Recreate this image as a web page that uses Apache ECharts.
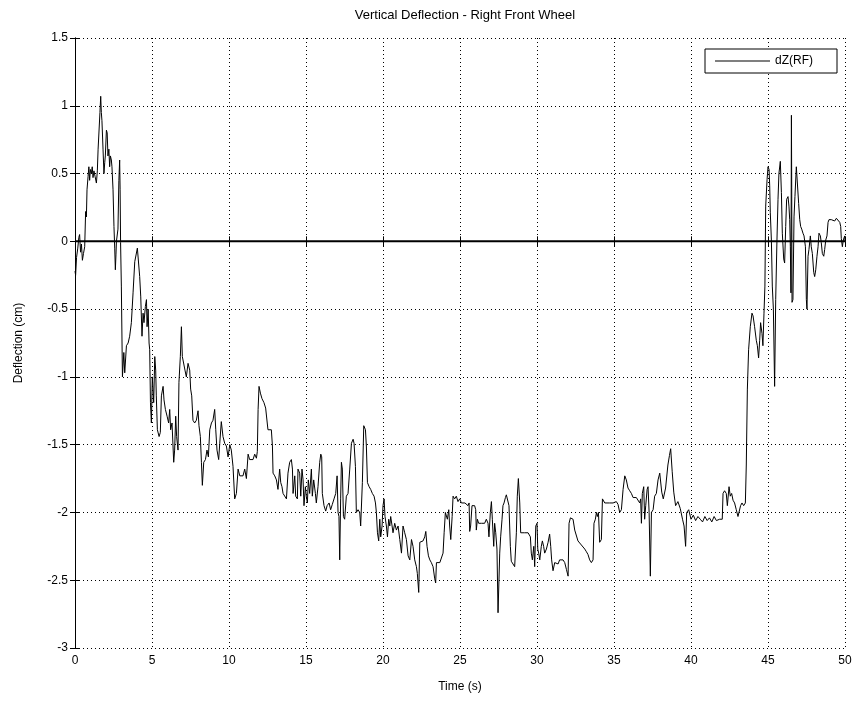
<!DOCTYPE html>
<html>
<head>
<meta charset="utf-8">
<script src="https://cdn.jsdelivr.net/npm/echarts@6/dist/echarts.min.js"></script>
<style>html,body{margin:0;padding:0;background:#fff;}#chart{width:858px;height:701px;}</style>
</head>
<body>
<div id="chart"></div>
<script>
// ---- data ----
const chartTitle = 'Vertical Deflection - Right Front Wheel';
const seriesName = 'dZ(RF)';
const xTicks = [0, 5, 10, 15, 20, 25, 30, 35, 40, 45, 50];
const yTicks = [-3, -2.5, -2, -1.5, -1, -0.5, 0, 0.5, 1, 1.5];

const timeS = [
0,0.04,0.1,0.18,0.25,0.3,0.36,0.42,0.48,0.55,0.63,0.69,0.74,0.78,0.85,0.9,0.95,1.0,1.06,1.12,1.17,1.23,1.3,1.39,1.45,1.5,1.56,1.62,1.67,1.71,1.75,1.82,1.88,1.93,1.97,2.04,2.09,2.14,2.2,2.25,2.3,2.36,2.4,2.47,2.53,2.58,2.62,2.66,2.69,2.79,2.85,2.9,2.93,2.96,3.01,
3.08,3.17,3.23,3.34,3.45,3.55,3.66,3.77,3.88,3.99,4.05,4.14,4.2,4.27,4.35,4.42,4.48,4.57,4.64,4.68,4.75,4.81,4.85,4.9,4.96,5.02,5.11,5.18,5.24,5.28,5.35,5.46,5.54,5.61,5.72,5.78,5.87,5.98,6.08,6.15,6.21,6.3,6.41,6.47,6.54,6.6,6.69,6.75,6.84,6.91,6.97,7.06,7.14,7.23,7.34,7.45,7.51,7.58,7.66,7.77,7.88,7.99,8.05,8.14,8.21,8.27,8.36,8.47,8.57,8.66,8.75,8.86,8.96,9.07,9.14,9.22,9.33,9.4,9.5,9.61,9.72,9.83,9.94,
10.05,10.15,10.26,10.37,10.48,10.59,10.7,10.8,10.91,11.02,11.13,11.24,11.34,11.45,11.56,11.67,11.78,11.84,11.89,11.95,12.04,12.14,12.27,12.38,12.47,12.53,12.64,12.75,12.82,12.86,12.97,13.08,13.18,13.29,13.36,13.44,13.51,13.62,13.73,13.83,13.94,14.05,14.12,14.16,14.27,14.33,14.44,14.48,14.59,14.66,14.74,14.81,14.87,14.96,15.02,15.09,15.15,15.24,15.35,15.41,15.5,15.61,15.67,15.78,15.89,15.96,16.02,16.06,16.17,16.28,16.37,16.5,16.6,16.71,16.82,16.93,17.02,17.08,17.14,17.19,17.25,17.3,17.36,17.43,17.51,17.62,17.73,17.84,17.95,
18.06,18.12,18.21,18.27,18.38,18.49,18.55,18.66,18.75,18.86,18.92,18.99,19.1,19.2,19.31,19.42,19.51,19.57,19.64,19.72,19.79,19.85,19.94,20.0,20.07,20.13,20.22,20.29,20.37,20.44,20.5,20.59,20.65,20.76,20.87,20.98,21.09,21.2,21.3,21.41,21.52,21.63,21.74,21.85,21.95,22.06,22.17,22.23,22.32,22.39,22.49,22.6,22.71,22.78,22.86,22.95,23.04,23.14,23.25,23.36,23.42,23.47,23.58,23.69,23.79,23.9,23.97,24.05,24.12,24.18,24.27,24.33,24.4,24.49,24.55,
24.65,24.76,24.87,24.98,25.09,25.2,25.32,25.41,25.52,25.59,25.63,25.69,25.78,25.85,25.95,26.02,26.06,26.13,26.21,26.28,26.39,26.49,26.6,26.71,26.82,26.88,26.97,27.04,27.1,27.19,27.25,27.32,27.4,27.47,27.53,27.58,27.64,27.73,27.79,27.86,27.95,28.01,28.12,28.18,28.27,28.33,28.44,28.55,28.66,28.72,28.79,28.88,28.94,29.05,29.2,29.42,29.57,29.63,29.7,29.79,29.85,29.92,30.0,30.05,30.11,30.18,30.28,30.35,30.43,30.5,30.61,30.72,30.82,30.89,30.95,31.04,31.15,31.26,31.37,31.47,31.58,31.69,31.8,31.91,32.02,
32.08,32.17,32.28,32.34,32.45,32.56,32.66,32.77,32.88,32.99,33.1,33.21,33.31,33.42,33.53,33.64,33.7,33.79,33.86,33.92,33.99,34.07,34.18,34.25,34.33,34.4,34.51,34.72,34.94,35.15,35.26,35.37,35.48,35.59,35.7,35.8,35.91,36.02,36.13,36.24,36.35,36.45,36.56,36.67,36.73,36.78,36.84,36.93,36.99,37.06,37.15,37.21,37.28,37.36,37.43,37.54,37.64,37.75,37.86,37.97,
38.1,38.2,38.35,38.5,38.6,38.68,38.78,38.88,39.0,39.15,39.3,39.45,39.55,39.65,39.72,39.85,40.0,40.15,40.3,40.45,40.6,40.75,40.9,41.05,41.2,41.35,41.5,41.65,41.86,42.03,42.08,42.18,42.29,42.36,42.47,42.55,42.64,42.73,42.83,42.94,43.05,43.16,43.22,43.31,43.42,43.53,43.59,43.66,43.74,43.85,43.96,44.03,44.13,44.24,44.31,44.39,44.46,44.52,44.61,44.67,44.74,44.8,
44.85,44.94,45.0,45.07,45.11,45.15,45.22,45.28,45.35,45.43,45.5,45.58,45.65,45.71,45.8,45.87,45.93,46.02,46.08,46.15,46.21,46.3,46.36,46.41,46.45,46.49,46.52,46.54,46.56,46.62,46.69,46.75,46.84,46.93,46.99,47.06,47.12,47.19,47.27,47.34,47.43,47.49,47.53,47.6,47.66,47.75,47.81,47.88,47.97,48.03,48.1,48.18,48.25,48.31,48.4,48.46,48.53,48.62,48.68,48.75,48.83,48.9,48.96,49.05,49.11,49.22,49.33,49.44,49.55,49.66,49.72,49.76,49.83,49.89,49.98,50
];

const deflectionCm = [
-0.22,-0.25,-0.12,-0.05,0.03,0.05,-0.08,-0.02,-0.14,-0.09,-0.04,0.22,0.18,0.38,0.48,0.55,0.45,0.53,0.5,0.55,0.47,0.52,0.48,0.43,0.52,0.68,0.68,0.95,1.07,0.95,0.89,0.68,0.5,0.58,0.63,0.82,0.8,0.63,0.68,0.55,0.63,0.6,0.55,0.38,0.11,-0.05,-0.21,-0.1,0.0,0.09,0.45,0.6,0.38,-0.01,-0.33,
-1.0,-0.82,-0.97,-0.77,-0.75,-0.7,-0.6,-0.38,-0.15,-0.16,-0.05,-0.06,-0.26,-0.41,-0.7,-0.53,-0.6,-0.48,-0.43,-0.63,-0.5,-0.75,-0.8,-1.19,-1.34,-1.0,-1.19,-0.85,-0.95,-1.14,-1.39,-1.44,-1.41,-1.14,-1.07,-1.17,-1.24,-1.29,-1.34,-1.24,-1.39,-1.34,-1.63,-1.54,-1.29,-1.44,-1.54,-1.04,-0.85,-0.63,-0.85,-0.85,-0.95,-1.0,-0.9,-0.95,-1.09,-1.14,-1.32,-1.34,-1.32,-1.25,-1.36,-1.44,-1.63,-1.8,-1.63,-1.61,-1.54,-1.59,-1.39,-1.34,-1.32,-1.24,-1.39,-1.54,-1.61,-1.49,-1.33,-1.44,-1.49,-1.51,-1.59,
-1.5,-1.54,-1.66,-1.9,-1.86,-1.68,-1.73,-1.72,-1.73,-1.68,-1.75,-1.57,-1.61,-1.6,-1.61,-1.57,-1.6,-1.55,-1.24,-1.07,-1.12,-1.16,-1.19,-1.23,-1.24,-1.39,-1.38,-1.39,-1.51,-1.71,-1.73,-1.76,-1.83,-1.68,-1.78,-1.81,-1.86,-1.87,-1.9,-1.71,-1.63,-1.61,-1.68,-1.86,-1.73,-1.88,-1.9,-1.68,-1.71,-1.88,-1.68,-1.76,-1.95,-1.81,-1.88,-1.93,-1.76,-1.86,-1.68,-1.88,-1.76,-1.86,-1.93,-1.81,-1.63,-1.57,-1.59,-1.86,-1.95,-1.99,-1.95,-1.93,-1.98,-1.94,-1.9,-1.86,-1.73,-2.0,-2.03,-2.35,-1.9,-1.63,-1.68,-2.03,-2.05,-1.88,-1.86,-1.68,-1.49,
-1.46,-1.49,-1.66,-2.0,-1.98,-2.0,-2.1,-1.78,-1.36,-1.39,-1.51,-1.78,-1.81,-1.83,-1.86,-1.88,-1.93,-2.0,-2.15,-2.21,-2.05,-2.18,-2.1,-1.95,-1.9,-2.03,-2.1,-2.18,-2.05,-2.1,-2.03,-2.1,-2.15,-2.08,-2.13,-2.1,-2.2,-2.3,-2.1,-2.15,-2.2,-2.32,-2.35,-2.2,-2.25,-2.35,-2.4,-2.45,-2.59,-2.22,-2.21,-2.21,-2.18,-2.14,-2.25,-2.32,-2.35,-2.37,-2.4,-2.49,-2.52,-2.37,-2.36,-2.37,-2.37,-2.3,-2.15,-2.0,-1.99,-2.05,-1.98,-2.1,-2.2,-2.03,-1.88,
-1.9,-1.88,-1.92,-1.9,-1.93,-1.92,-1.93,-1.94,-1.95,-1.93,-2.14,-2.1,-1.95,-1.94,-1.95,-1.98,-2.13,-2.05,-2.08,-2.09,-2.08,-2.08,-2.08,-2.05,-2.08,-2.18,-2.0,-1.92,-2.05,-2.25,-2.08,-2.15,-2.27,-2.74,-2.5,-2.3,-2.18,-2.05,-1.95,-1.93,-1.89,-1.87,-1.86,-1.95,-2.25,-2.36,-2.37,-2.4,-2.15,-1.88,-1.75,-1.93,-2.15,-2.15,-2.15,-2.15,-2.18,-2.3,-2.35,-2.25,-2.4,-2.1,-2.08,-2.27,-2.3,-2.35,-2.25,-2.21,-2.25,-2.3,-2.27,-2.22,-2.16,-2.25,-2.35,-2.43,-2.37,-2.36,-2.38,-2.35,-2.36,-2.35,-2.37,-2.42,-2.47,
-2.08,-2.04,-2.04,-2.05,-2.13,-2.14,-2.21,-2.22,-2.24,-2.25,-2.27,-2.29,-2.31,-2.35,-2.37,-2.35,-2.08,-2.05,-2.0,-2.03,-2.0,-2.22,-2.2,-1.9,-1.89,-1.93,-1.92,-1.93,-1.93,-1.92,-1.94,-2.0,-1.98,-1.83,-1.73,-1.76,-1.82,-1.84,-1.86,-1.89,-1.9,-1.89,-1.9,-1.93,-1.9,-2.08,-1.86,-1.81,-2.05,-1.95,-1.83,-1.81,-2.0,-2.47,-2.0,-1.98,-1.88,-1.86,-1.76,-1.71,
-1.85,-1.9,-1.82,-1.65,-1.58,-1.53,-1.7,-1.85,-1.95,-1.92,-1.97,-2.05,-2.1,-2.25,-2.0,-1.98,-2.05,-2.02,-2.06,-2.03,-2.05,-2.07,-2.03,-2.06,-2.04,-2.07,-2.03,-2.06,-2.05,-2.05,-1.86,-1.84,-1.86,-1.95,-1.81,-1.88,-1.86,-1.91,-1.93,-1.98,-2.03,-2.03,-1.95,-1.93,-1.95,-1.93,-1.65,-1.09,-0.8,-0.63,-0.53,-0.55,-0.63,-0.73,-0.77,-0.86,-0.73,-0.6,-0.68,-0.77,-0.53,-0.33,
0.26,0.455,0.55,0.53,0.41,0.21,0.01,-0.33,-0.5,-1.07,-0.43,0.0,0.31,0.5,0.59,0.36,0.06,-0.13,-0.16,0.11,0.31,0.33,0.26,0.16,-0.04,-0.38,0.93,0.4,-0.45,-0.43,0.18,0.33,0.55,0.54,0.28,0.16,0.11,0.09,0.06,0.04,-0.04,-0.43,-0.5,-0.11,-0.06,0.04,-0.04,-0.09,-0.23,-0.26,-0.21,-0.11,-0.04,0.06,0.04,-0.01,-0.09,-0.11,-0.06,0.01,0.04,0.14,0.16,0.17,0.16,0.16,0.15,0.17,0.16,0.14,0.11,0.02,-0.04,0.01,0.04,0.0
];

const zeroLine = [[0, 0], [50, 0]];

// ---- chart ----
const FONT = '"Liberation Sans", Arial, Helvetica, sans-serif';
const seriesData = timeS.map((t, i) => [t, deflectionCm[i]]);

const chart = echarts.init(document.getElementById('chart'), null, {renderer: 'canvas'});
const baseX = {
  type: 'value', min: xTicks[0], max: xTicks[xTicks.length - 1], interval: xTicks[1] - xTicks[0]
};
const baseY = {
  type: 'value', min: yTicks[0], max: yTicks[yTicks.length - 1], interval: yTicks[1] - yTicks[0]
};
const lineStyleAxis = {show: true, lineStyle: {color: '#000', width: 1}};
const tickIn = {show: true, inside: true, length: 5, lineStyle: {color: '#000'}};

chart.setOption({
  animation: false,
  backgroundColor: '#fff',
  title: {
    text: chartTitle, left: 460, top: 4, textAlign: 'center',
    textStyle: {fontFamily: FONT, fontSize: 13, fontWeight: 'normal', color: '#000'}
  },
  legend: {
    data: [seriesName], right: 21, top: 49,
    orient: 'vertical',
    padding: [6, 24, 6, 10],
    itemWidth: 55, itemHeight: 1, itemGap: 0,
    borderColor: '#000', borderWidth: 1, backgroundColor: '#fff',
    textStyle: {fontFamily: FONT, fontSize: 12, color: '#000'},
    icon: 'rect'
  },
  grid: {left: 75, right: 13, top: 38, bottom: 53, containLabel: false},
  xAxis: [
    Object.assign({}, baseX, {
      position: 'bottom', axisLine: lineStyleAxis, axisTick: tickIn,
      axisLabel: {color: '#000', fontFamily: FONT, fontSize: 12, margin: 7},
      splitLine: {show: true, lineStyle: {color: '#000', type: [1, 3], width: 1}},
      name: 'Time (s)', nameLocation: 'middle', nameGap: 33,
      nameTextStyle: {fontFamily: FONT, fontSize: 12, color: '#000'}
    }),
    Object.assign({}, baseX, {
      position: 'top', axisLine: lineStyleAxis, axisTick: tickIn,
      axisLabel: {show: false}, splitLine: {show: false}
    })
  ],
  yAxis: [
    Object.assign({}, baseY, {
      position: 'left', axisLine: lineStyleAxis, axisTick: tickIn,
      axisLabel: {color: '#000', fontFamily: FONT, fontSize: 12, margin: 7},
      splitLine: {show: true, lineStyle: {color: '#000', type: [1, 3], width: 1}},
      name: 'Deflection (cm)', nameLocation: 'middle', nameGap: 50,
      nameTextStyle: {fontFamily: FONT, fontSize: 12, color: '#000'}
    }),
    Object.assign({}, baseY, {
      position: 'right', axisLine: lineStyleAxis, axisTick: tickIn,
      axisLabel: {show: false}, splitLine: {show: false}
    })
  ],
  series: [
    {
      name: 'zero', type: 'line', data: zeroLine, symbol: 'none', silent: true,
      lineStyle: {color: '#000', width: 2}, z: 3
    },
    {
      name: seriesName, type: 'line', data: seriesData, symbol: 'none',
      lineStyle: {color: '#000', width: 1}, itemStyle: {color: '#000'}, z: 4
    }
  ]
});
</script>
</body>
</html>
